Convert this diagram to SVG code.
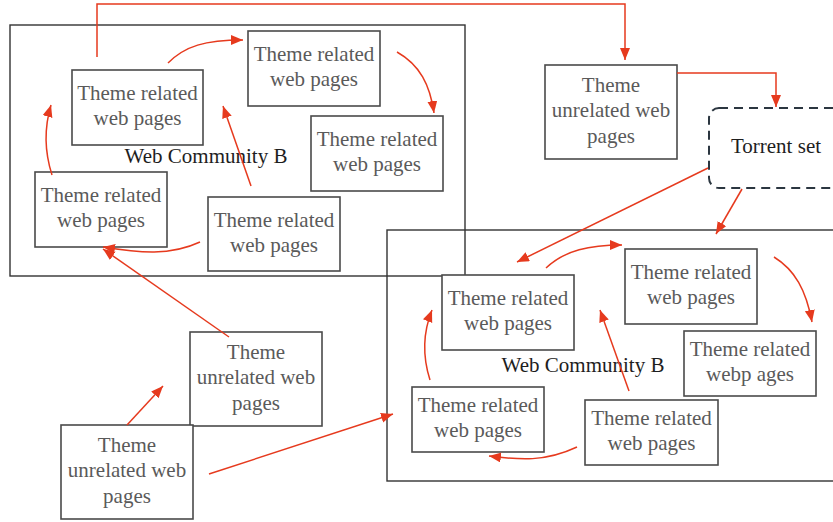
<svg xmlns="http://www.w3.org/2000/svg" width="833" height="522" viewBox="0 0 833 522">
  <style>
    .community { fill: none; stroke: #333; stroke-width: 1.4; }
    .node rect { fill: #fff; stroke: #4a4a4a; stroke-width: 1.6; }
    .node text { font-family: "Liberation Serif", "DejaVu Serif", serif; font-size: 21px; fill: #5a5a5a; text-anchor: middle; }
    .label { font-family: "Liberation Serif", "DejaVu Serif", serif; font-size: 21px; fill: #1e1e1e; text-anchor: middle; }
    .torrent rect { fill: #fff; stroke: #2b3640; stroke-width: 2; stroke-dasharray: 9 6; }
    .torrent text { font-family: "Liberation Serif", "DejaVu Serif", serif; font-size: 21px; fill: #1e1e1e; text-anchor: middle; }
    .conn { fill: none; stroke: #e63a1e; stroke-width: 1.5; marker-end: url(#arrow); }
  </style>
  <defs>
    <marker id="arrow" markerUnits="userSpaceOnUse" markerWidth="13" markerHeight="11" refX="12" refY="5" orient="auto">
      <path d="M0,0 L12,5 L0,10 z" fill="#e63a1e"/>
    </marker>
  </defs>
  <rect width="833" height="522" fill="#fff"/>

  <!-- community frames -->
  <g id="community-a">
    <rect class="community" x="10" y="25" width="455" height="251"/>
    <text class="label" x="206" y="163">Web Community B</text>
  </g>
  <g id="community-b">
    <rect class="community" x="387" y="230" width="460" height="251"/>
    <text class="label" x="583" y="372">Web Community B</text>
  </g>

  <!-- nodes of the first community -->
  <g id="a1" class="node"><rect x="72" y="70" width="131" height="75"/><text x="137.5" y="100">Theme related</text><text x="137.5" y="125">web pages</text></g>
  <g id="a2" class="node"><rect x="248" y="31" width="132" height="75"/><text x="314" y="61">Theme related</text><text x="314" y="86">web pages</text></g>
  <g id="a3" class="node"><rect x="311" y="116" width="132" height="75"/><text x="377" y="146">Theme related</text><text x="377" y="171">web pages</text></g>
  <g id="a4" class="node"><rect x="35" y="172" width="132" height="75"/><text x="101" y="202">Theme related</text><text x="101" y="227">web pages</text></g>
  <g id="a5" class="node"><rect x="208" y="197" width="132" height="74"/><text x="274" y="227">Theme related</text><text x="274" y="252">web pages</text></g>

  <!-- outside pages -->
  <g id="u1" class="node"><rect x="545" y="65" width="132" height="94"/><text x="611" y="92">Theme</text><text x="611" y="117">unrelated web</text><text x="611" y="143">pages</text></g>
  <g id="u2" class="node"><rect x="190" y="332" width="132" height="94"/><text x="256" y="359">Theme</text><text x="256" y="384">unrelated web</text><text x="256" y="410">pages</text></g>
  <g id="u3" class="node"><rect x="61" y="425" width="132" height="94"/><text x="127" y="452">Theme</text><text x="127" y="477">unrelated web</text><text x="127" y="503">pages</text></g>

  <g id="torrent" class="torrent"><rect x="709" y="108" width="150" height="80" rx="10"/><text x="776" y="153">Torrent set</text></g>

  <!-- nodes of the second community -->
  <g id="b1" class="node"><rect x="442" y="275" width="132" height="75"/><text x="508" y="305">Theme related</text><text x="508" y="330">web pages</text></g>
  <g id="b2" class="node"><rect x="625" y="249" width="132" height="75"/><text x="691" y="279">Theme related</text><text x="691" y="304">web pages</text></g>
  <g id="b3" class="node"><rect x="684" y="331" width="132" height="65"/><text x="750" y="356">Theme related</text><text x="750" y="381">webp ages</text></g>
  <g id="b4" class="node"><rect x="412" y="387" width="132" height="65"/><text x="478" y="412">Theme related</text><text x="478" y="437">web pages</text></g>
  <g id="b5" class="node"><rect x="585" y="400" width="133" height="65"/><text x="651.5" y="425">Theme related</text><text x="651.5" y="450">web pages</text></g>

  <!-- connectors -->
  <g id="connectors">
    <path class="conn" d="M168,63 C185,46 205,40 243,40"/>
    <path class="conn" d="M397,52 C420,65 430,85 434,113"/>
    <path class="conn" d="M52,175 C44,150 45,125 51,105"/>
    <path class="conn" d="M251,186 L223,106"/>
    <path class="conn" d="M200,242 C170,256 140,253 103,247"/>
    <path class="conn" d="M229,337 L103,249"/>
    <path class="conn" d="M127,425 L163,386"/>
    <path class="conn" d="M209,474 L393,414"/>
    <path class="conn" d="M97,57 V4 H625 V60"/>
    <path class="conn" d="M677,73 H776 V107"/>
    <path class="conn" d="M708,168 L517,262"/>
    <path class="conn" d="M742,189 L716,234"/>
    <path class="conn" d="M546,268 C565,250 590,245 622,245"/>
    <path class="conn" d="M774,257 C795,270 806,290 812,322"/>
    <path class="conn" d="M430,380 C422,355 424,330 432,310"/>
    <path class="conn" d="M629,391 L600,310"/>
    <path class="conn" d="M577,447 C545,462 520,460 489,456"/>
  </g>
</svg>
